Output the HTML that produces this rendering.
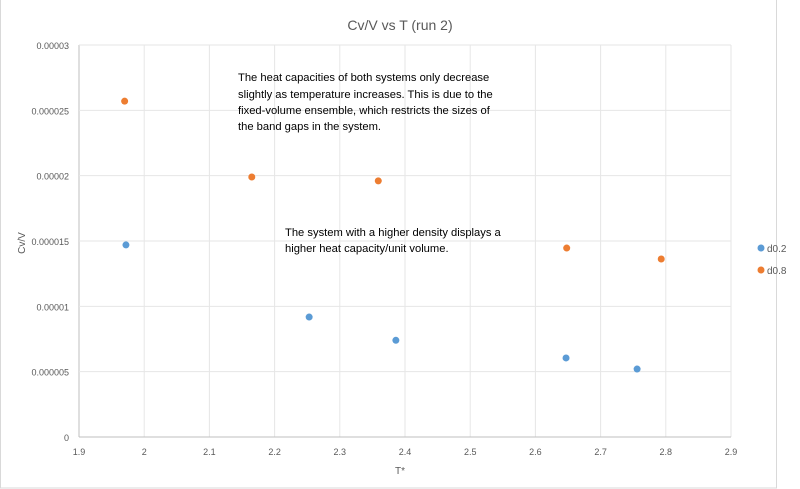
<!DOCTYPE html>
<html><head><meta charset="utf-8"><style>
body{margin:0;background:#fff;}
svg{display:block;font-family:"Liberation Sans",sans-serif;}
</style></head><body>
<svg id="chart" width="800" height="489">
<rect x="0.5" y="-1" width="776" height="489" fill="#fff" stroke="#d9d9d9"/>
<text x="400" y="30" text-anchor="middle" font-size="14" fill="#595959">Cv/V vs T (run 2)</text>
<g id="grid"></g><g id="marks"></g>
<text x="400" y="474" text-anchor="middle" font-size="10" fill="#595959">T*</text>
<text transform="translate(25,243) rotate(-90)" text-anchor="middle" font-size="10" fill="#595959">Cv/V</text>
<g font-size="11.2" fill="#000">
<text x="238" y="81">The heat capacities of both systems only decrease</text>
<text x="238" y="98">slightly as temperature increases. This is due to the</text>
<text x="238" y="114">fixed-volume ensemble, which restricts the sizes of</text>
<text x="238" y="130">the band gaps in the system.</text></g>
<g font-size="11.2" fill="#000">
<text x="285" y="236">The system with a higher density displays a</text>
<text x="285" y="252">higher heat capacity/unit volume.</text></g>
<g>
<circle cx="761" cy="248" r="3.5" fill="#5b9bd5"/>
<text x="767" y="252" font-size="10" fill="#595959">d0.2</text>
<circle cx="761" cy="270" r="3.5" fill="#ed7d31"/>
<text x="767" y="274" font-size="10" fill="#595959">d0.8</text></g>
</svg>
<script>
const xTicks=[1.9,2,2.1,2.2,2.3,2.4,2.5,2.6,2.7,2.8,2.9];
const yTicks=[0,0.000005,0.00001,0.000015,0.00002,0.000025,0.00003];
const yTickLabels=["0","0.000005","0.00001","0.000015","0.00002","0.000025","0.00003"];
const d02X=[1.972,2.253,2.386,2.647,2.756];
const d02Y=[0.0000147,0.00000918,0.0000074,0.00000605,0.0000052];
const d08X=[1.97,2.165,2.359,2.648,2.793];
const d08Y=[0.0000257,0.0000199,0.0000196,0.00001446,0.00001362];
const L=79,R=731,T=45,B=437;
const sx=v=>L+(v-1.9)/1.0*(R-L);
const sy=v=>B-v/0.00003*(B-T);
const NS="http://www.w3.org/2000/svg";
const grid=document.getElementById('grid'),marks=document.getElementById('marks');
function mk(tag,attrs,parent,text){const e=document.createElementNS(NS,tag);for(const k in attrs)e.setAttribute(k,attrs[k]);if(text!==undefined)e.textContent=text;parent.appendChild(e);return e;}
xTicks.forEach((t,i)=>{
const l=mk('line',{x1:sx(t),x2:sx(t),y1:T,y2:B,stroke:i===0?'#bfbfbf':'#e6e6e6'},grid);


const tx=mk('text',{x:sx(t),y:B+18,'text-anchor':'middle','font-size':'9',fill:'#595959'},grid,String(t));


});
yTicks.forEach((t,i)=>{
const l=mk('line',{x1:L,x2:R,y1:sy(t),y2:sy(t),stroke:i===0?'#bfbfbf':'#e6e6e6'},grid);


const tx=mk('text',{x:L-10,y:sy(t)+4,'text-anchor':'end','font-size':'9',fill:'#595959'},grid,yTickLabels[i]);


});
d02X.forEach((x,i)=>{
const c=mk('circle',{cx:sx(x),cy:sy(d02Y[i]),r:3.5,fill:'#5b9bd5'},marks);


});
d08X.forEach((x,i)=>{
const c=mk('circle',{cx:sx(x),cy:sy(d08Y[i]),r:3.5,fill:'#ed7d31'},marks);


});
</script>
</body></html>
